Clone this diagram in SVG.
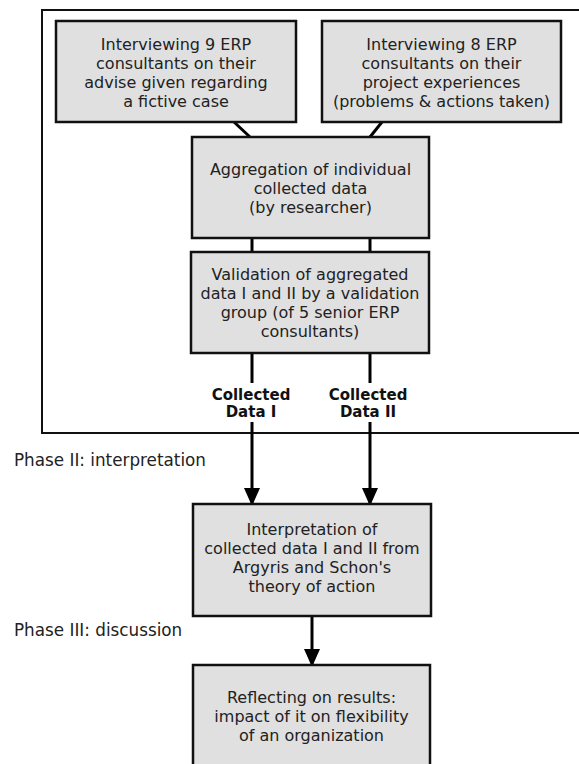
<svg xmlns="http://www.w3.org/2000/svg" width="579" height="764" viewBox="0 0 579 764">
<defs>
<style>
.box{fill:#e0e0e0;stroke:#111;stroke-width:2.5}
.t{font-family:"DejaVu Sans","Liberation Sans",sans-serif;font-size:16px;fill:#222;text-anchor:middle}
.b{font-family:"DejaVu Sans","Liberation Sans",sans-serif;font-size:15px;font-weight:bold;fill:#111;text-anchor:middle}
.p{font-family:"DejaVu Sans","Liberation Sans",sans-serif;font-size:16.8px;fill:#222}
.c{stroke:#000;stroke-width:3;fill:none}
</style>
<marker id="ah" viewBox="0 0 16 18" refX="16" refY="8" markerWidth="16" markerHeight="18" markerUnits="userSpaceOnUse" orient="auto">
<path d="M0,0 L18,8 L0,16 Z" fill="#000"/>
</marker>
</defs>
<rect x="0" y="0" width="579" height="764" fill="#fff"/>
<g id="frame"><rect x="42" y="10" width="560" height="423" fill="none" stroke="#111" stroke-width="2"/></g>
<g id="connectors">
<line class="c" x1="234" y1="122" x2="250" y2="137"/>
<line class="c" x1="382" y1="122" x2="370" y2="137"/>
<line class="c" x1="252" y1="238" x2="252" y2="252"/>
<line class="c" x1="370" y1="238" x2="370" y2="252"/>
<line class="c" x1="252" y1="353" x2="252" y2="383"/>
<line class="c" x1="370" y1="353" x2="370" y2="383"/>
<line class="c" x1="252" y1="422" x2="252" y2="504" marker-end="url(#ah)"/>
<line class="c" x1="370" y1="422" x2="370" y2="504" marker-end="url(#ah)"/>
<line class="c" x1="312" y1="616" x2="312" y2="665" marker-end="url(#ah)"/>
</g>
<g id="label1"><text class="b" x="251" y="400">Collected</text><text class="b" x="251" y="417">Data I</text></g>
<g id="label2"><text class="b" x="368" y="400">Collected</text><text class="b" x="368" y="417">Data II</text></g>
<g id="phase2"><text class="p" x="14" y="466">Phase II: interpretation</text></g>
<g id="phase3"><text class="p" x="14" y="636">Phase III: discussion</text></g>
<g id="n1"><rect class="box" x="56" y="21" width="240" height="101"/>
<text class="t" x="176" y="50">Interviewing 9 ERP</text><text class="t" x="176" y="69">consultants on their</text><text class="t" x="176" y="88">advise given regarding</text><text class="t" x="176" y="107">a fictive case</text></g>
<g id="n2"><rect class="box" x="322" y="21" width="239" height="101"/>
<text class="t" x="441.5" y="50">Interviewing 8 ERP</text><text class="t" x="441.5" y="69">consultants on their</text><text class="t" x="441.5" y="88">project experiences</text><text class="t" x="441.5" y="107">(problems &amp; actions taken)</text></g>
<g id="n3"><rect class="box" x="192" y="137" width="237" height="101"/>
<text class="t" x="310.5" y="175">Aggregation of individual</text><text class="t" x="310.5" y="194">collected data</text><text class="t" x="310.5" y="213">(by researcher)</text></g>
<g id="n4"><rect class="box" x="191" y="252" width="238" height="101"/>
<text class="t" x="310" y="280">Validation of aggregated</text><text class="t" x="310" y="299">data I and II by a validation</text><text class="t" x="310" y="318">group (of 5 senior ERP</text><text class="t" x="310" y="337">consultants)</text></g>
<g id="n5"><rect class="box" x="193" y="504" width="238" height="112"/>
<text class="t" x="312" y="535">Interpretation of</text><text class="t" x="312" y="554">collected data I and II from</text><text class="t" x="312" y="573">Argyris and Schon's</text><text class="t" x="312" y="592">theory of action</text></g>
<g id="n6"><rect class="box" x="193" y="665" width="237" height="110"/>
<text class="t" x="311.5" y="703">Reflecting on results:</text><text class="t" x="311.5" y="722">impact of it on flexibility</text><text class="t" x="311.5" y="741">of an organization</text></g>
</svg>
